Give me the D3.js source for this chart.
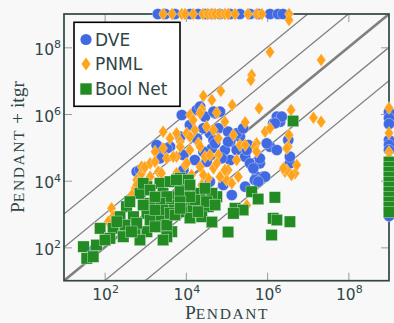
<!DOCTYPE html>
<html>
<head>
<meta charset="utf-8">
<script src="https://cdn.jsdelivr.net/npm/d3@7"></script>
<style>
  html, body { margin: 0; padding: 0; background: #f8f8f8; }
  svg { display: block; }
</style>
</head>
<body>
<svg id="chart" width="394" height="323"></svg>
<script>
// Explored state counts, stored as log10 exponents: [Pendant, Pendant + itgr].
// An exponent of 9 marks a run that hit the limit (drawn on the frame).
const seriesNames = ["DVE", "PNML", "Bool Net"];
const tickExponents = [2, 4, 6, 8];
const axisExponents = [1, 9];
const diagonalFactors = [1e-2, 1e-1, 1, 1e1, 1e2];

const dveLog = [
  [3.31,9],[3.49,9],[3.73,9],[4.10,9],[4.30,9],[4.47,9],[4.64,9],[4.84,9],[5.09,9],[5.33,9],
  [5.58,9],[5.78,9],[6.07,9],[6.27,9],[6.39,9],
  [9,6.06],[9,5.88],[9,5.70],[9,5.22],[9,5.07],[9,4.92],[9,2.94],
  [4.27,6.12],[4.35,6.22],[4.47,5.92],[4.72,6.02],[4.84,6.07],[3.90,5.97],[4.68,6.07],[3.86,5.32],
  [3.61,5.02],[3.40,4.92],[3.28,5.07],[4.27,5.27],[4.59,5.42],[4.80,5.57],[5.04,5.47],[5.09,5.17],
  [5.33,5.32],[5.54,5.07],[4.96,4.92],[5.25,4.92],[5.46,4.72],[4.64,4.97],[4.43,4.87],[5.09,4.62],
  [4.88,4.67],[5.58,4.52],[5.82,4.52],[6.07,5.02],[6.15,5.72],[6.24,5.92],[6.32,5.77],[6.36,5.92],
  [5.74,4.12],[5.91,4.12],[5.13,3.57],[5.46,3.82],[2.79,4.27],[2.87,4.32],[4.51,4.57],[4.22,4.62],
  [3.94,4.77],[4.68,5.22],[5.70,4.02],[5.95,4.12],[4.92,3.87],[4.59,3.97],[6.56,4.52],[6.52,5.22],
  [6.24,4.92],[5.82,4.67],[5.66,4.37],[6.56,4.72],[5.25,5.42],[5.04,5.17],[4.72,5.12],[5.50,4.92],
  [4.43,5.57],[3.94,4.32],[3.53,4.97],[3.36,4.67],[5.41,5.57],[5.99,5.12],[6.19,5.72],[1.72,1.92],
  [5.78,3.97],[4.10,5.67]
];

const pnmlLog = [
  [3.44,9],[3.66,9],[3.90,9],[3.98,9],[4.18,9],[4.42,9],[4.54,9],[4.64,9],[4.72,9],[4.84,9],
  [4.96,9],[5.04,9],[5.21,9],[5.53,9],[5.75,9],[5.87,9],[6.54,9],[6.54,8.82],
  [9,6.18],[9,5.43],[9,4.86],[9,4.68],
  [6.07,7.86],[7.33,7.62],[5.62,7.17],[5.60,7.02],[4.43,6.54],[4.86,6.69],[4.64,6.42],[5.14,6.27],
  [5.80,6.17],[6.59,6.12],[7.14,5.89],[7.33,5.77],[4.39,6.14],[4.76,6.04],[6.54,5.37],[6.52,5.02],
  [5.46,5.75],[5.95,5.47],[3.44,5.47],[4.10,5.97],[4.35,6.02],[4.96,5.77],[4.51,5.62],[4.22,5.52],
  [4.02,5.42],[3.86,5.17],[3.44,4.97],[3.24,4.87],[4.68,5.52],[5.17,5.37],[4.80,5.27],[4.31,5.12],
  [5.33,5.07],[5.74,5.12],[6.07,5.57],[4.47,4.72],[4.80,4.77],[4.10,4.92],[3.77,4.72],[3.53,4.67],
  [2.95,4.37],[3.12,4.52],[3.98,4.47],[4.35,4.42],[4.68,4.37],[5.04,4.32],[5.29,4.12],[5.00,4.02],
  [4.55,4.07],[4.14,4.17],[3.77,4.22],[5.13,3.92],[5.70,5.02],[2.79,4.02],[2.75,3.77],[5.50,3.26],
  [6.44,4.27],[6.69,4.22],[4.84,4.12],[4.43,4.17],[4.39,3.87],[6.73,4.47],[6.60,4.17],[6.48,4.32],
  [2.79,3.87],[2.17,3.17],[2.21,2.92],[2.67,3.57],[2.91,4.22],[3.12,4.12],[3.32,4.27],[2.91,4.42],
  [2.09,2.77],[4.18,5.82],[6.48,4.97],[6.40,4.37],[5.74,4.87],[5.46,5.07],[5.25,4.62],[4.96,4.32],
  [4.76,4.52],[4.59,4.77],[4.35,5.02],[4.10,5.32],[4.02,4.52],[3.86,5.02],[3.77,5.42],[3.69,4.72],
  [3.61,5.27],[3.24,4.57],[3.40,4.22],[2.99,4.40]
];

const boolNetLog = [
  [9,4.56],[9,4.41],[9,4.26],[9,4.11],[9,3.96],[9,3.81],[9,3.66],[9,3.51],[9,3.36],[9,3.21],[9,3.06],
  [6.64,5.79],[3.04,3.82],[2.87,3.62],[3.36,3.92],[3.61,3.97],[3.86,4.07],[4.06,4.02],[3.44,3.62],
  [3.69,3.52],[3.98,3.72],[4.27,3.57],[4.55,3.57],[4.76,3.52],[3.61,3.27],[3.94,3.22],[4.27,3.27],
  [5.62,3.67],[5.78,3.45],[6.19,3.50],[5.21,3.17],[5.41,3.12],[4.35,3.62],[4.64,3.62],[3.86,3.67],
  [3.69,3.12],[3.98,3.07],[4.43,3.22],[4.55,3.22],[4.39,2.92],[4.64,2.76],[5.17,3.02],[5.04,2.46],
  [6.15,2.87],[6.24,2.82],[6.56,2.77],[6.11,2.37],[3.65,2.47],[2.95,3.92],[3.53,3.52],[3.36,3.32],
  [2.54,3.22],[2.38,2.92],[2.71,2.92],[3.04,3.02],[3.36,2.92],[1.89,2.57],[2.21,2.57],[2.46,2.32],
  [2.13,2.27],[1.80,2.07],[1.48,2.02],[1.56,1.67],[1.72,1.72],[2.75,2.47],[3.04,2.47],[3.36,2.62],
  [3.53,2.32],[3.44,3.12],[3.61,3.02],[3.12,3.32],[2.79,2.72],[3.44,2.22],[4.18,3.22],[3.53,2.67],
  [4.51,3.37],[3.77,4.02],
  [3.12,3.72],[3.24,3.51],[4.10,3.87],[4.22,3.42],[4.47,3.77],[4.72,3.27],[3.73,2.97],[4.10,2.88],
  [3.12,2.82],[2.50,2.67],[2.87,2.22],[2.01,2.22],[4.10,3.51],[3.24,3.12],[2.62,3.37],[2.95,3.27],
  [3.86,3.37],[4.30,3.07],[2.30,2.77],[3.24,2.62],[3.86,3.17],[2.66,2.47]
];

// ---- styling ----
const colors = { "DVE": "#4169e1", "PNML": "#ffa31a", "Bool Net": "#228b22" };
const ink = "#2f4646";
const W = 394, H = 323;
const plot = { left: 64, right: 389, top: 14, bottom: 280.7 };

const svg = d3.select("#chart");
svg.append("rect").attr("width", W).attr("height", H).attr("fill", "#f8f8f8");

const domain = axisExponents.map(e => Math.pow(10, e));
const x = d3.scaleLog().domain(domain).range([plot.left, plot.right]);
const y = d3.scaleLog().domain(domain).range([plot.bottom, plot.top]);
const toValues = arr => arr.map(([a, b]) => [Math.pow(10, a), Math.pow(10, b)]);

svg.append("clipPath").attr("id", "plotClip")
  .append("rect")
  .attr("x", plot.left).attr("y", plot.top)
  .attr("width", plot.right - plot.left).attr("height", plot.bottom - plot.top);

// reference diagonals y = f * x
const diag = svg.append("g").attr("clip-path", "url(#plotClip)");
diagonalFactors.forEach(f => {
  diag.append("line")
    .attr("x1", x(domain[0])).attr("y1", y(domain[0] * f))
    .attr("x2", x(domain[1])).attr("y2", y(domain[1] * f))
    .attr("stroke", "#808080")
    .attr("stroke-width", f === 1 ? 2.6 : 1.3);
});

// ticks on all four sides, drawn inward
const tickVals = tickExponents.map(e => Math.pow(10, e));
function styleTicks(g) {
  g.select(".domain").remove();
  g.selectAll(".tick line").attr("stroke", "#9a9a9a").attr("stroke-width", 1);
  g.selectAll(".tick text").remove();
}
svg.append("g").attr("transform", `translate(0,${plot.bottom})`)
  .call(d3.axisBottom(x).tickValues(tickVals).tickSizeInner(-8).tickSizeOuter(0)).call(styleTicks);
svg.append("g").attr("transform", `translate(0,${plot.top})`)
  .call(d3.axisTop(x).tickValues(tickVals).tickSizeInner(-8).tickSizeOuter(0)).call(styleTicks);
svg.append("g").attr("transform", `translate(${plot.left},0)`)
  .call(d3.axisLeft(y).tickValues(tickVals).tickSizeInner(-8).tickSizeOuter(0)).call(styleTicks);
svg.append("g").attr("transform", `translate(${plot.right},0)`)
  .call(d3.axisRight(y).tickValues(tickVals).tickSizeInner(-8).tickSizeOuter(0)).call(styleTicks);

// frame
svg.append("rect")
  .attr("x", plot.left).attr("y", plot.top)
  .attr("width", plot.right - plot.left).attr("height", plot.bottom - plot.top)
  .attr("fill", "none").attr("stroke", ink).attr("stroke-width", 1.7);

// tick labels 10^k
const labelFont = "DejaVu Sans, sans-serif";
function powerLabel(g, e, px, py, anchor) {
  const t = g.append("text").attr("x", px).attr("y", py)
    .attr("text-anchor", anchor).attr("fill", ink)
    .attr("font-family", labelFont).attr("font-size", 15.5);
  t.append("tspan").text("10");
  t.append("tspan").attr("dy", -6.5).attr("font-size", 11).text(e);
}
const labels = svg.append("g");
tickExponents.forEach(e => {
  powerLabel(labels, e, x(Math.pow(10, e)) + 1, 299.5, "middle");
  powerLabel(labels, e, plot.left - 3, y(Math.pow(10, e)) + 7.5, "end");
});

// axis titles in small caps
const serif = "Liberation Serif, serif";
function pendant(t) {
  t.append("tspan").attr("font-size", 19.5).text("P");
  t.append("tspan").attr("font-size", 15.5).attr("letter-spacing", 1.6).text("ENDANT");
}
const xt = svg.append("text").attr("x", 227).attr("y", 318.5)
  .attr("text-anchor", "middle").attr("fill", ink).attr("font-family", serif);
pendant(xt);
const yt = svg.append("text").attr("transform", "translate(24,147) rotate(-90)")
  .attr("text-anchor", "middle").attr("fill", ink).attr("font-family", serif);
pendant(yt);
yt.append("tspan").attr("font-size", 19.5).text(" + itgr");

// markers
const shapes = {
  "DVE": g => g.append("circle").attr("r", 5.6),
  "PNML": g => g.append("path").attr("d", "M0,-6.5L4.6,0L0,6.5L-4.6,0Z"),
  "Bool Net": g => g.append("rect").attr("x", -5.7).attr("y", -5.7).attr("width", 11.4).attr("height", 11.4)
};
const seriesData = { "DVE": dveLog, "PNML": pnmlLog, "Bool Net": boolNetLog };

seriesNames.forEach(name => {
  const g = svg.append("g").attr("fill", colors[name])
    .attr("stroke", "#f8f8f8").attr("stroke-width", 0.35);
  g.selectAll("g").data(toValues(seriesData[name])).join("g")
    .attr("transform", d => `translate(${x(d[0])},${y(d[1])})`)
    .each(function () { shapes[name](d3.select(this)); });
});

// legend
const lg = svg.append("g");
lg.append("rect").attr("x", 74).attr("y", 22.3).attr("width", 106).attr("height", 84)
  .attr("fill", "#ffffff").attr("stroke", "#000").attr("stroke-width", 1.6);
const rowY = [39.5, 64, 89];
seriesNames.forEach((name, i) => {
  const m = lg.append("g").attr("transform", `translate(86,${rowY[i]})`).attr("fill", colors[name]);
  shapes[name](m);
  lg.append("text").attr("x", 95).attr("y", rowY[i] + 6)
    .attr("fill", ink).attr("font-family", labelFont).attr("font-size", 17)
    .text(name);
});
</script>
</body>
</html>
